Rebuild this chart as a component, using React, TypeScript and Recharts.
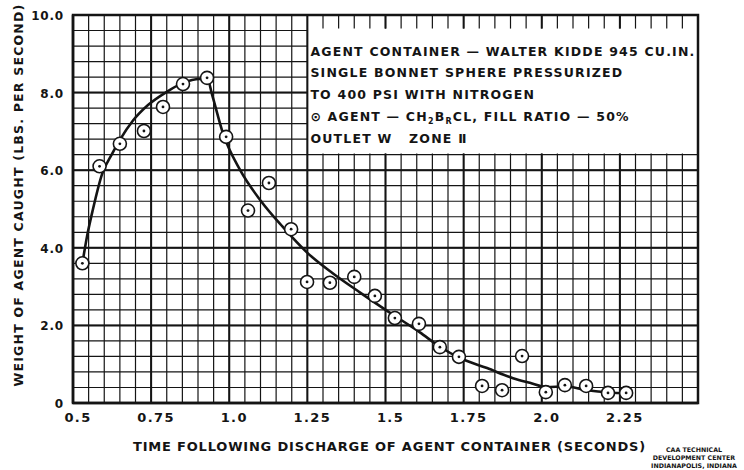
import {
  ComposedChart, Line, Scatter, XAxis, YAxis,
  ReferenceArea, ReferenceLine,
} from 'recharts';

const INK = '#141414';
const FONT = '"DejaVu Sans", "Liberation Sans", sans-serif';

// axis ticks
const xTicks = [0.5, 0.75, 1.0, 1.25, 1.5, 1.75, 2.0, 2.25];
const xTickLabels = ['0.5', '0.75', '1.0', '1.25', '1.5', '1.75', '2.0', '2.25'];
const yTicks = [0, 2, 4, 6, 8, 10];
const yTickLabels = ['0', '2.0', '4.0', '6.0', '8.0', '10.0'];

// graph paper rulings
const majorX = [0.75, 1.0, 1.25, 1.5, 1.75, 2.0, 2.25];
const majorY = [2, 4, 6, 8];
const minorX = Array.from({ length: 39 }, (_, i) => +(0.55 + i * 0.05).toFixed(2));
const minorY = Array.from({ length: 24 }, (_, i) => +(0.4 + i * 0.4).toFixed(1));

// legend box on the graph paper
const box = { x1: 1.25, x2: 2.5, y1: 6.43, y2: 9.65 };

// measured points (circled)
const sampleTime = [0.53, 0.585, 0.65, 0.727, 0.788, 0.852, 0.929, 0.99, 1.06, 1.127, 1.198, 1.249, 1.322, 1.40, 1.466, 1.53, 1.607, 1.674, 1.735, 1.809, 1.873, 1.937, 2.013, 2.074, 2.142, 2.212, 2.27];
const sampleRate = [3.6, 6.1, 6.68, 7.01, 7.63, 8.22, 8.38, 6.86, 4.96, 5.67, 4.48, 3.12, 3.10, 3.25, 2.76, 2.19, 2.04, 1.44, 1.19, 0.44, 0.33, 1.21, 0.28, 0.46, 0.44, 0.26, 0.26];

// faired curve drawn through the points
const fitTime = [0.53, 0.545, 0.564, 0.593, 0.625, 0.65, 0.692, 0.74, 0.80, 0.852, 0.905, 0.93, 0.945, 0.98, 1.035, 1.1, 1.17, 1.25, 1.33, 1.42, 1.51, 1.61, 1.674, 1.738, 1.825, 1.908, 1.962, 2.017, 2.074, 2.145, 2.218, 2.27];
const fitRate = [3.6, 4.3, 5.0, 5.9, 6.42, 6.78, 7.28, 7.68, 8.02, 8.25, 8.35, 8.35, 7.95, 6.95, 6.0, 5.22, 4.55, 3.87, 3.35, 2.84, 2.35, 1.82, 1.45, 1.16, 0.9, 0.64, 0.52, 0.41, 0.43, 0.33, 0.27, 0.25];

const samples = sampleTime.map((t, i) => ({ time: t, rate: sampleRate[i] }));
const fitCurve = fitTime.map((t, i) => ({ time: t, rate: fitRate[i] }));

// rulings are broken where the legend box sits
function verticalRule(v: number, w: number) {
  if (v <= box.x1) return <ReferenceLine key={`v${v}`} x={v} stroke={INK} strokeWidth={w} />;
  return [
    <ReferenceLine key={`va${v}`} segment={[{ x: v, y: 0 }, { x: v, y: box.y1 }]} stroke={INK} strokeWidth={w} />,
    <ReferenceLine key={`vb${v}`} segment={[{ x: v, y: box.y2 }, { x: v, y: 10 }]} stroke={INK} strokeWidth={w} />,
  ];
}
function horizontalRule(v: number, w: number) {
  if (v < box.y1 || v > box.y2) return <ReferenceLine key={`h${v}`} y={v} stroke={INK} strokeWidth={w} />;
  return <ReferenceLine key={`h${v}`} segment={[{ x: 0.5, y: v }, { x: box.x1, y: v }]} stroke={INK} strokeWidth={w} />;
}

const textStyle = { fontFamily: FONT, fontWeight: 700, fill: INK };

function XTick({ x, y, index }: any) {
  return (
    <text x={x + 5} y={y + 11} textAnchor="middle" fontSize={13} style={{ ...textStyle, letterSpacing: 1.4 }}>
      {xTickLabels[index]}
    </text>
  );
}

function YTick({ x, y, index }: any) {
  return (
    <text x={x - 1} y={y + 5} textAnchor="end" fontSize={12} style={{ ...textStyle, letterSpacing: 0.8 }}>
      {yTickLabels[index]}
    </text>
  );
}

function XTitle({ viewBox }: any) {
  const { x, y, width, height } = viewBox;
  return (
    <text x={x + width / 2 + 4} y={y + height + 18} textAnchor="middle" fontSize={13} style={{ ...textStyle, letterSpacing: 0.8 }}>
      TIME FOLLOWING DISCHARGE OF AGENT CONTAINER (SECONDS)
    </text>
  );
}

function YTitle({ viewBox }: any) {
  const { x, y, height } = viewBox;
  const cx = x + 10;
  const cy = y + height / 2 - 14;
  return (
    <text x={cx} y={cy} textAnchor="middle" dominantBaseline="central" transform={`rotate(-90 ${cx} ${cy})`}
      fontSize={12.5} style={{ ...textStyle, letterSpacing: 1.2 }}>
      WEIGHT OF AGENT CAUGHT (LBS. PER SECOND)
    </text>
  );
}

function Note({ viewBox }: any) {
  const { x, y } = viewBox;
  const tx = x + 3;
  const st = { ...textStyle, letterSpacing: 1.2 };
  return (
    <g fontSize={12.5}>
      <text x={tx} y={y + 27} style={st}>AGENT CONTAINER — WALTER KIDDE 945 CU.IN.</text>
      <text x={tx} y={y + 48} style={st}>SINGLE BONNET SPHERE PRESSURIZED</text>
      <text x={tx} y={y + 70} style={st}>TO 400 PSI WITH NITROGEN</text>
      <text x={tx} y={y + 92} style={st}>
        ⊙ AGENT — CH<tspan fontSize={8} dy={3}>2</tspan><tspan dy={-3}>B</tspan>
        <tspan fontSize={8} dy={3}>R</tspan><tspan dy={-3}>CL, FILL RATIO — 50%</tspan>
      </text>
      <text x={tx} y={y + 114} style={st} xmlSpace="preserve">OUTLET W   ZONE Ⅱ</text>
    </g>
  );
}

function Sample({ cx, cy }: any) {
  return (
    <g>
      <circle cx={cx} cy={cy} r={6.5} fill="#fff" stroke={INK} strokeWidth={1.6} />
      <circle cx={cx} cy={cy} r={1.4} fill={INK} />
    </g>
  );
}

export default function App() {
  return (
    <div style={{ position: 'absolute', left: 0, top: 0, width: 744, height: 470, background: '#fff' }}>
      <ComposedChart width={744} height={470} margin={{ top: 15, right: 46, bottom: 37, left: 8 }}>
        <XAxis dataKey="time" type="number" domain={[0.5, 2.5]} ticks={xTicks} allowDataOverflow
          tick={<XTick />} tickLine={false} axisLine={{ stroke: INK, strokeWidth: 2.5 }}
          height={30} label={{ content: XTitle }} />
        <YAxis dataKey="rate" type="number" domain={[0, 10]} ticks={yTicks} allowDataOverflow
          tick={<YTick />} tickLine={false} axisLine={{ stroke: INK, strokeWidth: 2.5 }}
          width={65} label={{ content: YTitle }} />
        <ReferenceArea x1={box.x1} x2={box.x2} y1={box.y1} y2={box.y2} fill="#fff" fillOpacity={0} stroke="none"
          label={{ content: Note }} />
        <ReferenceArea x1={0.5} x2={2.5} y1={0} y2={10} fill="none" stroke={INK} strokeWidth={2.5} />
        {minorX.map((v) => verticalRule(v, 1.2))}
        {minorY.map((v) => horizontalRule(v, 1.2))}
        {majorX.map((v) => verticalRule(v, 2))}
        {majorY.map((v) => horizontalRule(v, 2))}
        <Line data={fitCurve} dataKey="rate" type="monotone" stroke={INK} strokeWidth={2.6}
          dot={false} activeDot={false} isAnimationActive={false} />
        <Scatter data={samples} dataKey="rate" shape={Sample} isAnimationActive={false} />
      </ComposedChart>
      <div style={{
        position: 'absolute', left: 646, top: 446, width: 96, textAlign: 'center',
        fontFamily: FONT, fontWeight: 700, fontSize: 6.3, lineHeight: '8px', color: INK, whiteSpace: 'nowrap',
      }}>
        <div>CAA TECHNICAL</div>
        <div>DEVELOPMENT CENTER</div>
        <div>INDIANAPOLIS, INDIANA</div>
      </div>
    </div>
  );
}
